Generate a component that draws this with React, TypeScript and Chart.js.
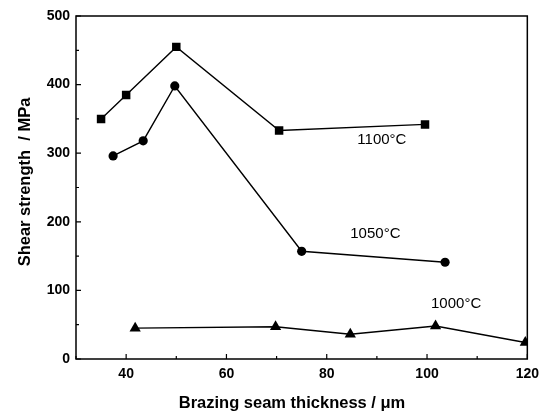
import React, { useEffect, useRef } from "react";
import { Chart, registerables } from "chart.js";

Chart.register(...registerables);

const x1100 = [35, 40, 50, 70.5, 99.6];
const y1100 = [350, 385, 455, 333, 342];
const x1050 = [37.4, 43.4, 49.7, 75, 103.6];
const y1050 = [296, 318, 398, 157, 141];
const x1000 = [41.8, 69.8, 84.7, 101.7, 119.6];
const y1000 = [45, 47, 36, 48, 24];

const labelTexts = ["1100°C", "1050°C", "1000°C"];
const labelX = [91, 89.7, 105.8];
const labelY = [320, 183, 80];

const xMajor = [40, 60, 80, 100, 120];
const xMinor = [30, 50, 70, 90, 110];
const yMajor = [0, 100, 200, 300, 400, 500];
const yMinor = [50, 150, 250, 350, 450];

const xTitle = "Brazing seam thickness / μm";
const yTitle = "Shear strength  / MPa";

const FONT = "Liberation Sans, Arial, sans-serif";

const toPts = (xs: number[], ys: number[]) => xs.map((x, i) => ({ x, y: ys[i] }));

const framePlugin = {
  id: "frameTicks",
  afterDraw(chart: any) {
    const { ctx, chartArea: a, scales } = chart;
    const xs = scales.x;
    const ys = scales.y;
    ctx.save();
    ctx.strokeStyle = "#000";
    ctx.lineWidth = 1.5;
    ctx.strokeRect(a.left, a.top, a.right - a.left, a.bottom - a.top);
    ctx.lineWidth = 1.2;
    ctx.beginPath();
    xMajor.forEach((v) => {
      const p = xs.getPixelForValue(v);
      ctx.moveTo(p, a.bottom);
      ctx.lineTo(p, a.bottom - 5);
    });
    xMinor.forEach((v) => {
      const p = xs.getPixelForValue(v);
      ctx.moveTo(p, a.bottom);
      ctx.lineTo(p, a.bottom - 3);
    });
    yMajor.forEach((v) => {
      const p = ys.getPixelForValue(v);
      ctx.moveTo(a.left, p);
      ctx.lineTo(a.left + 5, p);
    });
    yMinor.forEach((v) => {
      const p = ys.getPixelForValue(v);
      ctx.moveTo(a.left, p);
      ctx.lineTo(a.left + 3, p);
    });
    ctx.stroke();
    ctx.fillStyle = "#000";
    ctx.font = `15px ${FONT}`;
    ctx.textAlign = "center";
    ctx.textBaseline = "middle";
    labelTexts.forEach((t, i) => {
      ctx.fillText(t, xs.getPixelForValue(labelX[i]), ys.getPixelForValue(labelY[i]));
    });
    // axis titles
    ctx.font = `bold 16.5px ${FONT}`;
    ctx.fillText(xTitle, 292, 403);
    ctx.translate(25, 182);
    ctx.rotate(-Math.PI / 2);
    ctx.fillText(yTitle, 0, 0);
    ctx.restore();
  },
};

export default function App() {
  const ref = useRef<HTMLCanvasElement | null>(null);
  useEffect(() => {
    document.body.style.margin = "0";
    const radii: Record<string, number> = { rect: 6, circle: 4.6, triangle: 6.5 };
    const ds = (data: any[], style: string) => ({
      data,
      showLine: true,
      borderColor: "#000",
      backgroundColor: "#000",
      borderWidth: 1.4,
      pointStyle: style,
      pointRadius: radii[style],
      pointBorderWidth: 0,
      tension: 0,
    });
    const chart = new Chart(ref.current as HTMLCanvasElement, {
      type: "scatter",
      data: {
        datasets: [
          ds(toPts(x1100, y1100), "rect"),
          ds(toPts(x1050, y1050), "circle"),
          ds(toPts(x1000, y1000), "triangle"),
        ],
      },
      options: {
        animation: false,
        responsive: false,
        plugins: { legend: { display: false }, tooltip: { enabled: false } },
        layout: { padding: { top: 16, right: 18, left: 0, bottom: 0 } },
        scales: {
          x: {
            type: "linear",
            min: 30,
            max: 120,
            afterFit: (s: any) => {
              s.height = 57;
            },
            afterBuildTicks: (s: any) => {
              s.ticks = xMajor.map((v) => ({ value: v }));
            },
            grid: { display: false, drawTicks: false },
            border: { display: false },
            ticks: { color: "#000", font: { family: FONT, size: 14, weight: "bold" }, padding: 7, maxRotation: 0 },
          },
          y: {
            type: "linear",
            min: 0,
            max: 500,
            afterFit: (s: any) => {
              s.width = 76;
            },
            afterBuildTicks: (s: any) => {
              s.ticks = yMajor.map((v) => ({ value: v }));
            },
            grid: { display: false, drawTicks: false },
            border: { display: false },
            ticks: { color: "#000", font: { family: FONT, size: 14, weight: "bold" }, padding: 6 },
          },
        },
      },
      plugins: [framePlugin],
    } as any);
    return () => chart.destroy();
  }, []);
  return (
    <div style={{ position: "absolute", left: 0, top: 0, width: 546, height: 416, background: "#fff" }}>
      <canvas ref={ref} width={546} height={416} />
    </div>
  );
}
